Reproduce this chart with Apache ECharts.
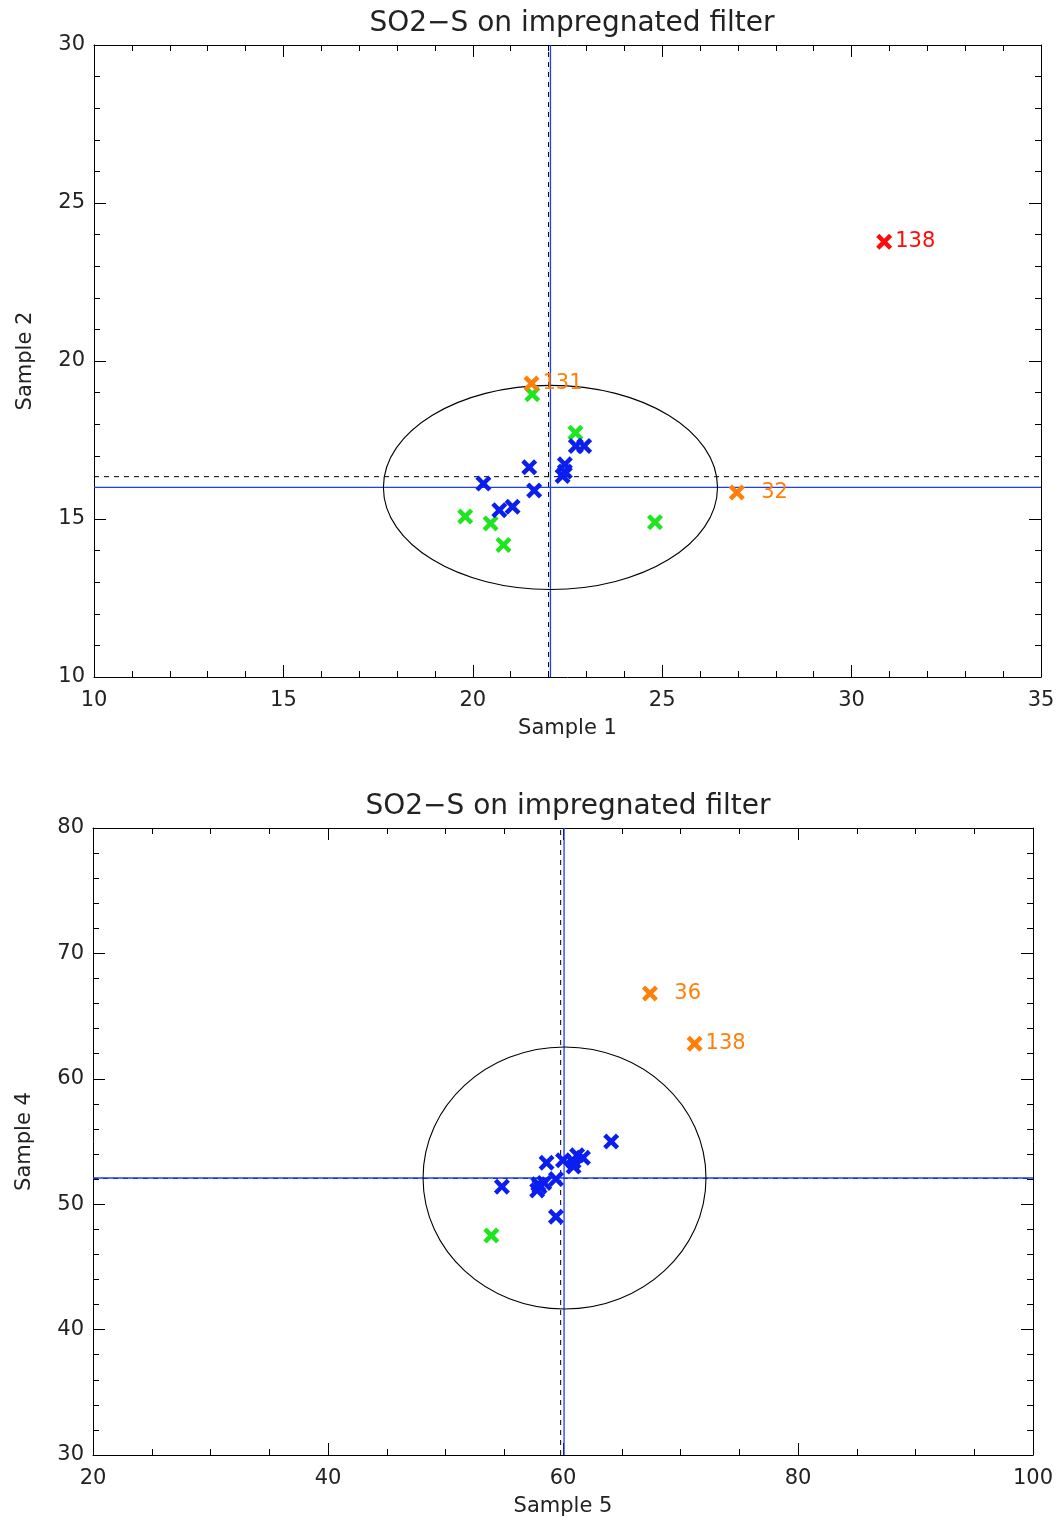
<!DOCTYPE html>
<html>
<head>
<meta charset="utf-8">
<script src="https://cdn.jsdelivr.net/npm/echarts@6/dist/echarts.min.js"></script>
<style>
html,body{margin:0;padding:0;background:#fff;}
#chart{width:1060px;height:1521px;}
</style>
</head>
<body>
<div id="chart"></div>
<script>
// ---------- Data ----------
const TITLE = 'SO2\u2212S on impregnated filter';

// Top panel: Sample 1 (x) vs Sample 2 (y)
const TOP_X_NAME = 'Sample 1';
const TOP_Y_NAME = 'Sample 2';
const TOP_X_RANGE = [10, 35];
const TOP_Y_RANGE = [10, 30];
const TOP_BLUE = [
  [20.28, 16.12], [21.49, 16.64], [21.62, 15.90], [20.70, 15.28], [21.05, 15.39],
  [22.43, 16.73], [22.37, 16.36], [22.43, 16.50], [22.72, 17.31], [22.94, 17.31]
];
const TOP_GREEN = [
  [21.57, 18.95], [22.71, 17.73], [19.80, 15.08], [20.47, 14.86], [20.81, 14.18], [24.81, 14.90]
];
const TOP_ORANGE = [[21.55, 19.29], [26.97, 15.84]];
const TOP_ORANGE_IDS = [131, 32];
const TOP_RED = [[30.86, 23.77]];
const TOP_RED_IDS = [138];
const TOP_MEAN = [22.05, 16.00];      // blue solid lines
const TOP_MEDIAN = [22.00, 16.34];    // black dashed lines
const TOP_ELLIPSE = [22.05, 16.00, 4.41, 3.23]; // cx, cy, rx, ry

// Bottom panel: Sample 5 (x) vs Sample 4 (y)
const BOT_X_NAME = 'Sample 5';
const BOT_Y_NAME = 'Sample 4';
const BOT_X_RANGE = [20, 100];
const BOT_Y_RANGE = [30, 80];
const BOT_BLUE = [
  [64.1, 55.0], [54.8, 51.4], [58.6, 53.3], [59.4, 49.0], [58.0, 51.4],
  [57.8, 51.1], [58.4, 51.7], [59.4, 52.0], [60.0, 53.5], [60.9, 53.0],
  [61.2, 53.9], [61.7, 53.7], [60.9, 53.4], [57.9, 51.6]
];
const BOT_GREEN = [[53.9, 47.5]];
const BOT_ORANGE = [[67.4, 66.8], [71.2, 62.8]];
const BOT_ORANGE_IDS = [36, 138];
const BOT_MEAN = [60.09, 52.09];
const BOT_MEDIAN = [59.80, 52.05];
const BOT_ELLIPSE = [60.13, 52.09, 12.04, 10.45];

// ---------- Styling ----------
const BLUE = '#0a1ef0';
const GREEN = '#1ee61e';
const ORANGE = '#ff7f0a';
const RED = '#ff0a0a';
const LINE_BLUE = '#1e3cff';
const TXT = '#222';
const FONT = '"DejaVu Sans", sans-serif';
const XPATH = 'path://M0,2L2,0L5,3L8,0L10,2L7,5L10,8L8,10L5,7L2,10L0,8L3,5Z';

const grids = [
  {left: 94, top: 45, width: 947, height: 632},
  {left: 93, top: 828, width: 940, height: 627}
];

function axisPair(kind, gi, range, interval, minorSplit, name, nameGap) {
  const common = {
    type: 'value', gridIndex: gi, min: range[0], max: range[1], interval: interval,
    splitLine: {show: false},
    axisLine: {show: true, onZero: false, lineStyle: {color: '#000', width: 1}},
    axisTick: {show: true, inside: true, length: 12, lineStyle: {color: '#000', width: 1}},
    minorTick: {show: true, splitNumber: minorSplit, length: 6, lineStyle: {color: '#000', width: 1}},
  };
  const main = Object.assign({}, common, {
    position: kind === 'x' ? 'bottom' : 'left',
    name: name, nameLocation: 'middle', nameGap: nameGap,
    nameTextStyle: {fontFamily: FONT, fontSize: 21, color: TXT},
    axisLabel: {show: true, fontFamily: FONT, fontSize: 21, color: TXT, margin: kind === 'x' ? 13 : 9}
  });
  const opp = Object.assign({}, common, {
    position: kind === 'x' ? 'top' : 'right',
    axisLabel: {show: false}
  });
  return [main, opp];
}

const xAxes = [
  ...axisPair('x', 0, TOP_X_RANGE, 5, 5, TOP_X_NAME, 41),
  ...axisPair('x', 1, BOT_X_RANGE, 20, 4, BOT_X_NAME, 41)
];
const yAxes = [
  ...axisPair('y', 0, TOP_Y_RANGE, 5, 5, TOP_Y_NAME, 58),
  ...axisPair('y', 1, BOT_Y_RANGE, 10, 5, BOT_Y_NAME, 58)
];

function scatter(data, color, xi, yi, ids) {
  return {
    type: 'scatter', xAxisIndex: xi, yAxisIndex: yi,
    symbol: XPATH, symbolSize: 16, z: 5,
    itemStyle: {color: color, opacity: 1},
    label: ids ? {
      show: true, position: 'right', distance: 3,
      formatter: p => String(ids[p.dataIndex]).padStart(3, '\u2007'),
      fontFamily: FONT, fontSize: 21, color: color
    } : {show: false},
    emphasis: {disabled: true},
    data: data
  };
}

function vline(x, yr, xi, yi, color, type, w) {
  return {type: 'line', xAxisIndex: xi, yAxisIndex: yi, symbol: 'none', silent: true, z: 2,
    lineStyle: {color: color, width: w, type: type}, data: [[x, yr[0]], [x, yr[1]]]};
}
function hline(y, xr, xi, yi, color, type, w) {
  return {type: 'line', xAxisIndex: xi, yAxisIndex: yi, symbol: 'none', silent: true, z: 2,
    lineStyle: {color: color, width: w, type: type}, data: [[xr[0], y], [xr[1], y]]};
}
function ellipse(e, xi, yi) {
  return {
    type: 'custom', xAxisIndex: xi, yAxisIndex: yi, silent: true, z: 3, clip: true,
    data: [e],
    renderItem: function (params, api) {
      const c = api.coord([api.value(0), api.value(1)]);
      const s = api.size([api.value(2), api.value(3)]);
      return {type: 'ellipse', shape: {cx: c[0], cy: c[1], rx: s[0], ry: s[1]},
        style: {fill: null, stroke: '#000', lineWidth: 1.1}};
    }
  };
}

const series = [
  // top
  vline(TOP_MEDIAN[0], TOP_Y_RANGE, 0, 0, '#000', [5, 5], 1),
  hline(TOP_MEDIAN[1], TOP_X_RANGE, 0, 0, '#000', [5, 5], 1),
  vline(TOP_MEAN[0], TOP_Y_RANGE, 0, 0, LINE_BLUE, 'solid', 1.3),
  hline(TOP_MEAN[1], TOP_X_RANGE, 0, 0, LINE_BLUE, 'solid', 1.3),
  ellipse(TOP_ELLIPSE, 0, 0),
  scatter(TOP_GREEN, GREEN, 0, 0),
  scatter(TOP_BLUE, BLUE, 0, 0),
  scatter(TOP_ORANGE, ORANGE, 0, 0, TOP_ORANGE_IDS),
  scatter(TOP_RED, RED, 0, 0, TOP_RED_IDS),
  // bottom
  vline(BOT_MEDIAN[0], BOT_Y_RANGE, 2, 2, '#000', [5, 5], 1),
  hline(BOT_MEDIAN[1], BOT_X_RANGE, 2, 2, '#000', [5, 5], 1),
  vline(BOT_MEAN[0], BOT_Y_RANGE, 2, 2, LINE_BLUE, 'solid', 1.3),
  hline(BOT_MEAN[1], BOT_X_RANGE, 2, 2, LINE_BLUE, 'solid', 1.3),
  ellipse(BOT_ELLIPSE, 2, 2),
  scatter(BOT_GREEN, GREEN, 2, 2),
  scatter(BOT_BLUE, BLUE, 2, 2),
  scatter(BOT_ORANGE, ORANGE, 2, 2, BOT_ORANGE_IDS)
];

const chart = echarts.init(document.getElementById('chart'), null, {renderer: 'canvas'});
chart.setOption({
  animation: false,
  backgroundColor: '#fff',
  title: [
    {text: TITLE, left: 567, top: 5, textAlign: 'center',
      textStyle: {fontFamily: FONT, fontSize: 28, fontWeight: 'normal', color: TXT}},
    {text: TITLE, left: 563, top: 788, textAlign: 'center',
      textStyle: {fontFamily: FONT, fontSize: 28, fontWeight: 'normal', color: TXT}}
  ],
  grid: grids,
  xAxis: xAxes,
  yAxis: yAxes,
  series: series
});
</script>
</body>
</html>
